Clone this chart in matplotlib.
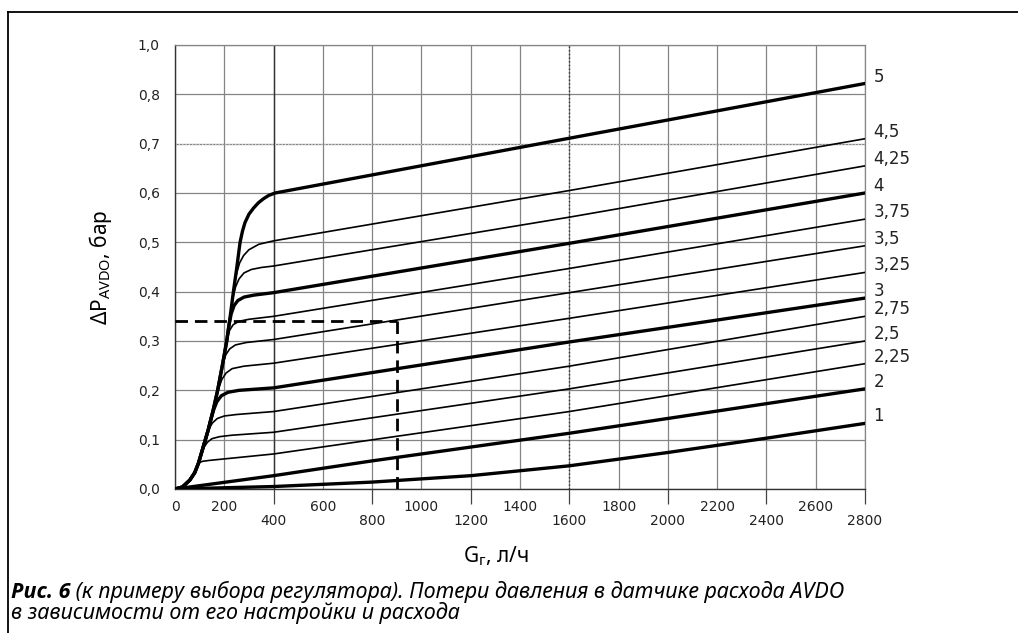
import matplotlib
matplotlib.use('Agg')
import matplotlib.pyplot as plt
from matplotlib.lines import Line2D
from matplotlib import font_manager

# огибающая (общий начальный участок всех кривых)
env_G = [0, 30, 60, 80, 95, 115, 135, 155, 173, 192, 210, 224, 237, 251, 264]
env_P = [0, 0.004, 0.018, 0.033, 0.052, 0.086, 0.12, 0.16, 0.20, 0.25, 0.30, 0.35, 0.40, 0.45, 0.50]

# настройки AVDO и участки кривых после отхода от огибающей
settings = ['5', '4,5', '4,25', '4', '3,75', '3,5', '3,25', '3', '2,75', '2,5', '2,25', '2', '1']
branch_G = [
    [274, 284, 300, 318, 338, 358, 380, 406, 1600, 2800],
    [240, 250, 262, 278, 300, 340, 400, 1600, 2800],
    [228, 236, 246, 260, 280, 310, 350, 400, 1600, 2800],
    [218, 228, 240, 255, 280, 320, 400, 1600, 2800],
    [203, 212, 222, 236, 260, 300, 400, 1600, 2800],
    [184, 195, 206, 222, 245, 290, 400, 1600, 2800],
    [165, 178, 190, 207, 232, 280, 400, 1600, 2800],
    [145, 158, 170, 188, 215, 260, 400, 1600, 2800],
    [125, 138, 152, 172, 200, 250, 400, 1600, 2800],
    [105, 118, 132, 150, 180, 230, 400, 1600, 2800],
    [95, 110, 140, 400, 1600, 2800],
    [0, 400, 800, 1600, 2800],
    [0, 400, 800, 1200, 1600, 2000, 2400, 2800],
]
branch_P = [
    [0.523, 0.540, 0.557, 0.569, 0.580, 0.588, 0.595, 0.600, 0.711, 0.822],
    [0.411, 0.437, 0.458, 0.473, 0.485, 0.496, 0.503, 0.605, 0.710],
    [0.365, 0.390, 0.410, 0.426, 0.438, 0.445, 0.449, 0.452, 0.551, 0.655],
    [0.329, 0.355, 0.372, 0.382, 0.389, 0.393, 0.398, 0.498, 0.600],
    [0.281, 0.305, 0.322, 0.333, 0.340, 0.344, 0.350, 0.447, 0.547],
    [0.229, 0.255, 0.272, 0.284, 0.292, 0.297, 0.303, 0.398, 0.493],
    [0.182, 0.205, 0.222, 0.235, 0.244, 0.249, 0.255, 0.346, 0.439],
    [0.140, 0.162, 0.177, 0.189, 0.196, 0.200, 0.205, 0.298, 0.387],
    [0.103, 0.122, 0.134, 0.143, 0.148, 0.151, 0.157, 0.249, 0.350],
    [0.069, 0.085, 0.095, 0.102, 0.106, 0.109, 0.115, 0.203, 0.300],
    [0.052, 0.056, 0.058, 0.071, 0.157, 0.254],
    [0, 0.027, 0.057, 0.113, 0.203],
    [0, 0.005, 0.014, 0.027, 0.047, 0.074, 0.103, 0.133],
]

# пример выбора
G_sel = 900
P_sel = 0.34

x_major = [400, 800, 1200, 1600, 2000, 2400, 2800]
x_minor = [0, 200, 600, 1000, 1400, 1800, 2200, 2600]
y_ticks = [0, 0.1, 0.2, 0.3, 0.4, 0.5, 0.6, 0.7, 0.8, 0.9]
y_labels = ['0,0', '0,1', '0,2', '0,3', '0,4', '0,5', '0,6', '0,7', '0,8', '1,0']

W, H = 1018, 633
fig = plt.figure(figsize=(W / 100, H / 100), dpi=100)
ax = fig.add_axes([175 / W, 1 - 489 / H, 690 / W, 444 / H])

for name, bg, bp in zip(settings, branch_G, branch_P):
    g = [x for x in env_G if x < bg[0]]
    p = env_P[:len(g)] + bp
    g = g + bg
    lw = 2.4 if ',' not in name else 1.2
    ax.plot(g, p, color='black', lw=lw, solid_joinstyle='round', zorder=4)
    ax.annotate(name, xy=(bg[-1], bp[-1]), xytext=(6, 5), textcoords='offset points',
                ha='left', va='center', fontsize=12, color='#222222',
                family='DejaVu Sans', annotation_clip=False)

ax.plot([0, G_sel], [P_sel, P_sel], color='black', lw=2, dashes=(4.5, 2.5), zorder=5)
ax.plot([G_sel, G_sel], [P_sel, 0], color='black', lw=2, dashes=(4.5, 2.5), zorder=5)

ax.set_xlim(0, 2800)
ax.set_ylim(0, 0.9)
ax.set_xticks(x_major)
ax.set_xticklabels([str(v) for v in x_major])
ax.set_xticks(x_minor, minor=True)
ax.set_xticklabels([str(v) for v in x_minor], minor=True)
ax.set_yticks(y_ticks)
ax.set_yticklabels(y_labels)

ax.tick_params(axis='x', which='major', length=11, width=0.9, color='#444444',
               pad=7, labelsize=10, labelcolor='#222222')
ax.tick_params(axis='x', which='minor', length=0, pad=8, labelsize=10, labelcolor='#222222')
ax.tick_params(axis='y', length=0, pad=11, labelsize=10, labelcolor='#222222')

ax.grid(which='both', color='#858585', lw=0.9, zorder=0)
ax.set_axisbelow(True)
ax.axvline(400, color='#333333', lw=1.0, zorder=1)
ax.axvline(1600, color='#333333', lw=1.0, ls=':', zorder=1)
ax.axhline(0.7, color='#d0d0d0', lw=0.9, ls=':', zorder=1)

for side in ['top', 'right']:
    ax.spines[side].set_color('#858585')
    ax.spines[side].set_linewidth(0.9)
for side in ['left', 'bottom']:
    ax.spines[side].set_color('#333333')
    ax.spines[side].set_linewidth(1.0)

# подписи осей
fig.text(100 / W, 1 - 267 / H, 'ΔP$_\\mathregular{AVDO}$, бар', rotation=90,
         ha='center', va='center', family='Noto Sans', fontsize=15)
fig.text(496 / W, 1 - 556 / H, 'G$_\\mathregular{г}$, л/ч',
         ha='center', va='center', family='Noto Sans', fontsize=15)

# рамка
fig.add_artist(Line2D([8 / W, 8 / W], [0, 1 - 12 / H], transform=fig.transFigure,
                      color='black', lw=1.3))
fig.add_artist(Line2D([8 / W, 1], [1 - 12 / H, 1 - 12 / H], transform=fig.transFigure,
                      color='black', lw=1.3))

# подпись рисунка: шрифт с настоящим полужирным курсивом, если есть
bold_family = 'DejaVu Sans'
for fam in ['Noto Sans', 'Open Sans', 'Lato', 'Roboto']:
    path = font_manager.findfont(font_manager.FontProperties(family=fam, weight='bold', style='italic'),
                                 fallback_to_default=False)
    name = path.lower().replace('-', '').replace('_', '')
    if 'bolditalic' in name or 'boldoblique' in name:
        bold_family = fam
        break

cap_size = 12.5
r = fig.canvas.get_renderer()
y1, y2 = 1 - 598 / H, 1 - 619 / H
t1 = fig.text(11 / W, y1, 'Рис. 6', family=bold_family, fontweight='bold',
              fontstyle='italic', fontsize=cap_size, va='baseline')
bb = t1.get_window_extent(r)
t2 = fig.text(bb.x1 / W, y1,
              ' (к примеру выбора регулятора). Потери давления в датчике расхода AVDO',
              family='Noto Sans', fontstyle='italic', fontsize=cap_size, va='baseline')
t3 = fig.text(11 / W, y2, 'в зависимости от его настройки и расхода',
              family='Noto Sans', fontstyle='italic', fontsize=cap_size, va='baseline')
# подгонка размера под ширину строки в оригинале
scale = (846 - 11) / (t2.get_window_extent(r).x1 - 11)
for t in (t1, t2, t3):
    t.set_fontsize(cap_size * scale)
t2.set_x(t1.get_window_extent(r).x1 / W)

fig.savefig('out.png', dpi=100)
